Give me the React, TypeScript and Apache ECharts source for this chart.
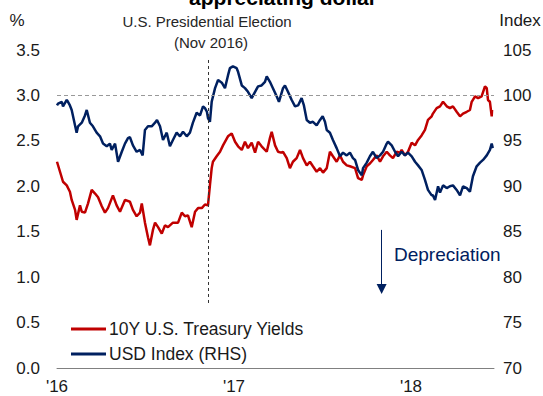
import React, { useEffect, useRef } from "react";
import * as echarts from "echarts";

// Decimal-year time stamps and values
const yieldTime = [
  2016.000, 2016.017, 2016.034, 2016.055, 2016.073, 2016.083, 2016.102, 2016.111, 2016.130, 2016.140,
  2016.158, 2016.175, 2016.196, 2016.215, 2016.232, 2016.253, 2016.271, 2016.288, 2016.316, 2016.337,
  2016.356, 2016.384, 2016.412, 2016.429, 2016.450, 2016.469, 2016.479, 2016.497, 2016.514, 2016.525,
  2016.542, 2016.554, 2016.571, 2016.592, 2016.610, 2016.627, 2016.655, 2016.684, 2016.705, 2016.723,
  2016.740, 2016.761, 2016.780, 2016.797, 2016.818, 2016.836, 2016.853, 2016.864, 2016.874, 2016.881,
  2016.902, 2016.921, 2016.938, 2016.966, 2016.987, 2017.006, 2017.023, 2017.044, 2017.062, 2017.079,
  2017.100, 2017.119, 2017.136, 2017.156, 2017.185, 2017.203, 2017.213, 2017.232, 2017.249, 2017.266,
  2017.277, 2017.298, 2017.316, 2017.333, 2017.354, 2017.373, 2017.390, 2017.411, 2017.429, 2017.446,
  2017.467, 2017.486, 2017.503, 2017.524, 2017.542, 2017.559, 2017.580, 2017.599, 2017.616, 2017.637,
  2017.655, 2017.684, 2017.701, 2017.722, 2017.729, 2017.750, 2017.768, 2017.785, 2017.806, 2017.825,
  2017.842, 2017.863, 2017.881, 2017.898, 2017.919, 2017.938, 2017.947, 2017.966, 2017.983, 2018.004,
  2018.023, 2018.040, 2018.060, 2018.079, 2018.096, 2018.117, 2018.124, 2018.145, 2018.164, 2018.181,
  2018.202, 2018.220, 2018.237, 2018.258, 2018.277, 2018.294, 2018.315, 2018.333, 2018.343, 2018.362,
  2018.379, 2018.399, 2018.418, 2018.428, 2018.435, 2018.446, 2018.456, 2018.458,
];
const yieldValues = [
  2.27, 2.16, 2.05, 2.01, 1.94, 1.85, 1.74, 1.63, 1.79, 1.72,
  1.71, 1.81, 1.96, 1.92, 1.88, 1.78, 1.71, 1.76, 1.90, 1.79,
  1.72, 1.85, 1.83, 1.74, 1.67, 1.71, 1.81, 1.60, 1.44, 1.35,
  1.52, 1.60, 1.55, 1.48, 1.57, 1.55, 1.60, 1.60, 1.71, 1.67,
  1.68, 1.55, 1.72, 1.76, 1.76, 1.80, 1.79, 2.01, 2.20, 2.27,
  2.33, 2.38, 2.45, 2.55, 2.58, 2.49, 2.44, 2.40, 2.49, 2.42,
  2.48, 2.37, 2.49, 2.44, 2.38, 2.53, 2.60, 2.45, 2.38, 2.37,
  2.38, 2.31, 2.20, 2.27, 2.31, 2.40, 2.31, 2.23, 2.27, 2.22,
  2.16, 2.20, 2.15, 2.20, 2.38, 2.33, 2.27, 2.34, 2.27, 2.23,
  2.22, 2.20, 2.09, 2.07, 2.12, 2.22, 2.25, 2.29, 2.34, 2.27,
  2.33, 2.38, 2.34, 2.31, 2.38, 2.37, 2.40, 2.34, 2.38, 2.48,
  2.45, 2.51, 2.56, 2.62, 2.73, 2.77, 2.80, 2.86, 2.88, 2.93,
  2.88, 2.86, 2.88, 2.82, 2.77, 2.80, 2.82, 2.84, 2.93, 2.99,
  2.97, 2.99, 3.10, 3.08, 2.95, 2.93, 2.77, 2.84,
];

const usdTime = [
  2016.000, 2016.006, 2016.027, 2016.034, 2016.055, 2016.062, 2016.073, 2016.083, 2016.102, 2016.111,
  2016.119, 2016.140, 2016.158, 2016.168, 2016.186, 2016.203, 2016.224, 2016.243, 2016.260, 2016.281,
  2016.299, 2016.309, 2016.328, 2016.345, 2016.366, 2016.384, 2016.401, 2016.412, 2016.429, 2016.450,
  2016.469, 2016.484, 2016.497, 2016.514, 2016.535, 2016.554, 2016.565, 2016.582, 2016.599, 2016.620,
  2016.638, 2016.655, 2016.676, 2016.695, 2016.712, 2016.733, 2016.751, 2016.768, 2016.789, 2016.808,
  2016.825, 2016.836, 2016.847, 2016.853, 2016.864, 2016.874, 2016.893, 2016.910, 2016.931, 2016.949,
  2016.966, 2016.977, 2016.994, 2017.015, 2017.023, 2017.044, 2017.062, 2017.079, 2017.100, 2017.119,
  2017.136, 2017.156, 2017.175, 2017.185, 2017.203, 2017.220, 2017.241, 2017.254, 2017.277, 2017.288,
  2017.305, 2017.326, 2017.345, 2017.362, 2017.382, 2017.395, 2017.411, 2017.429, 2017.446, 2017.467,
  2017.486, 2017.501, 2017.514, 2017.524, 2017.542, 2017.559, 2017.580, 2017.599, 2017.616, 2017.637,
  2017.655, 2017.672, 2017.684, 2017.701, 2017.722, 2017.729, 2017.750, 2017.768, 2017.785, 2017.806,
  2017.825, 2017.842, 2017.863, 2017.870, 2017.891, 2017.910, 2017.927, 2017.947, 2017.966, 2017.983,
  2018.004, 2018.023, 2018.040, 2018.060, 2018.079, 2018.096, 2018.117, 2018.124, 2018.136, 2018.153,
  2018.164, 2018.181, 2018.202, 2018.220, 2018.237, 2018.258, 2018.277, 2018.294, 2018.315, 2018.333,
  2018.350, 2018.371, 2018.390, 2018.407, 2018.428, 2018.446, 2018.456, 2018.462,
];
const usdValues = [
  98.9, 99.1, 99.3, 98.8, 99.5, 99.3, 98.9, 98.4, 96.7, 95.9,
  96.6, 97.0, 97.8, 98.4, 97.0, 96.6, 95.9, 95.5, 94.7, 94.4,
  94.7, 94.0, 94.7, 92.7, 93.8, 94.7, 95.3, 95.4, 94.5, 93.8,
  94.0, 93.4, 96.2, 96.6, 96.6, 97.0, 97.3, 96.6, 95.1, 95.9,
  94.4, 95.1, 95.9, 95.5, 96.0, 95.5, 95.9, 97.0, 98.1, 97.8,
  98.8, 98.6, 98.2, 97.5, 97.1, 99.3, 100.8, 101.7, 101.4, 100.8,
  102.2, 103.0, 103.2, 103.0, 102.6, 101.1, 100.8, 100.4, 99.7, 100.4,
  101.0, 101.1, 101.5, 102.1, 101.5, 100.8, 99.9, 99.3, 100.8, 101.1,
  100.4, 99.5, 98.8, 98.9, 99.7, 98.9, 97.3, 97.0, 97.1, 96.7,
  97.3, 97.7, 97.1, 96.2, 95.9, 95.1, 94.2, 93.3, 93.7, 93.4,
  93.7, 93.1, 92.9, 91.8, 91.2, 92.0, 92.6, 93.3, 93.8, 93.1,
  93.4, 93.8, 94.7, 94.9, 94.5, 93.8, 93.3, 93.8, 93.4, 93.7,
  93.3, 92.7, 92.3, 91.8, 90.7, 89.6, 89.0, 89.0, 88.5, 90.0,
  89.3, 90.1, 89.8, 90.0, 90.1, 89.6, 89.0, 90.0, 89.8, 89.4,
  91.1, 92.2, 92.6, 92.9, 93.4, 94.0, 94.7, 94.2,
];

const yearTicks = [2016, 2017, 2018];
const leftTicks = [0, 0.5, 1, 1.5, 2, 2.5, 3, 3.5];
const rightTicks = [70, 75, 80, 85, 90, 95, 100, 105];
const xEnd = 2018.469;
const electionTime = 2016.855;
const parityLevel = 3.0;
const arrowTime = 2017.834;
const seriesNames = ["10Y U.S. Treasury Yields", "USD Index (RHS)"];

const RED = "#C00000";
const NAVY = "#002060";
const FONT = "Liberation Sans";
const TXT = "#1a1a1a";

export default function App() {
  const ref = useRef<HTMLDivElement>(null);
  useEffect(() => {
    if (!ref.current) return;
    const chart = echarts.init(ref.current, null, { renderer: "svg" });
    const yieldData = yieldTime.map((t, i) => [t, yieldValues[i]]);
    const usdData = usdTime.map((t, i) => [t, usdValues[i]]);
    chart.setOption({
      animation: false,
      textStyle: { fontFamily: FONT },
      grid: { left: 57, right: 49, top: 50, bottom: 28 },
      legend: {
        orient: "vertical",
        left: 66,
        top: 315,
        itemWidth: 35,
        itemHeight: 3,
        itemGap: 7,
        icon: "rect",
        data: seriesNames,
        textStyle: { fontFamily: FONT, fontSize: 17.5, color: TXT, padding: [0, 0, 0, -2] },
      },
      xAxis: {
        type: "value",
        min: yearTicks[0],
        max: xEnd,
        interval: 1,
        axisLine: { show: true, lineStyle: { color: "#808080", width: 1 } },
        axisTick: { show: false },
        splitLine: { show: false },
        axisLabel: {
          margin: 10,
          fontSize: 17,
          color: TXT,
          fontFamily: FONT,
          showMaxLabel: false,
          formatter: (v: number) =>
            yearTicks.indexOf(Math.round(v * 1000) / 1000) >= 0 ? "'" + String(Math.round(v)).slice(2) : "",
        },
      },
      yAxis: [
        {
          type: "value",
          min: leftTicks[0],
          max: leftTicks[leftTicks.length - 1],
          interval: 0.5,
          axisLine: { show: false },
          axisTick: { show: false },
          splitLine: { show: false },
          axisLabel: {
            margin: 17,
            fontSize: 17,
            color: TXT,
            fontFamily: FONT,
            formatter: (v: number) => v.toFixed(1),
          },
        },
        {
          type: "value",
          min: rightTicks[0],
          max: rightTicks[rightTicks.length - 1],
          interval: 5,
          position: "right",
          axisLine: { show: false },
          axisTick: { show: false },
          splitLine: { show: false },
          axisLabel: {
            margin: 9,
            fontSize: 17,
            color: TXT,
            fontFamily: FONT,
            align: "left",
          },
        },
      ],
      series: [
        {
          name: seriesNames[0],
          type: "line",
          data: yieldData,
          yAxisIndex: 0,
          showSymbol: false,
          lineStyle: { color: RED, width: 2.5 },
          itemStyle: { color: RED },
          z: 3,
          markLine: {
            silent: true,
            symbol: "none",
            label: { show: false },
            data: [
              [
                { coord: [electionTime, 3.39], lineStyle: { color: "#333", type: [3, 3], width: 1 } },
                { coord: [electionTime, 0.69] },
              ],
              {
                yAxis: parityLevel,
                lineStyle: { color: "#999", type: [4, 3], width: 1 },
              },
              [
                {
                  coord: [arrowTime, 1.52],
                  symbol: "none",
                  lineStyle: { color: NAVY, type: "solid", width: 1 },
                },
                { coord: [arrowTime, 0.87], symbol: "triangle", symbolSize: [10, 10], symbolRotate: 180 },
              ],
            ],
          },
        },
        {
          name: seriesNames[1],
          type: "line",
          data: usdData,
          yAxisIndex: 1,
          showSymbol: false,
          lineStyle: { color: NAVY, width: 2.5 },
          itemStyle: { color: NAVY },
          z: 4,
        },
      ],
      graphic: [
        {
          type: "text",
          x: 283,
          y: 8,
          style: {
            text: "appreciating dollar",
            font: 'bold 21px "Liberation Sans"',
            fill: "#000",
            align: "center",
            verticalAlign: "bottom",
          },
        },
        {
          type: "text",
          x: 17,
          y: 20,
          style: { text: "%", font: '17px "Liberation Sans"', fill: TXT, align: "center", verticalAlign: "middle" },
        },
        {
          type: "text",
          x: 520,
          y: 20,
          style: { text: "Index", font: '17px "Liberation Sans"', fill: TXT, align: "center", verticalAlign: "middle" },
        },
        {
          type: "text",
          x: 207,
          y: 21,
          style: {
            text: "U.S. Presidential Election",
            font: '15px "Liberation Sans"',
            fill: "#262626",
            align: "center",
            verticalAlign: "middle",
          },
        },
        {
          type: "text",
          x: 211,
          y: 42,
          style: { text: "(Nov 2016)", font: '15px "Liberation Sans"', fill: "#262626", align: "center", verticalAlign: "middle" },
        },
        {
          type: "text",
          x: 394,
          y: 254,
          style: { text: "Depreciation", font: '19px "Liberation Sans"', fill: NAVY, align: "left", verticalAlign: "middle" },
        },
      ],
    });
    return () => chart.dispose();
  }, []);
  return (
    <div
      ref={ref}
      style={{ position: "absolute", left: 0, top: 0, width: 543, height: 396, background: "#fff" }}
    />
  );
}
